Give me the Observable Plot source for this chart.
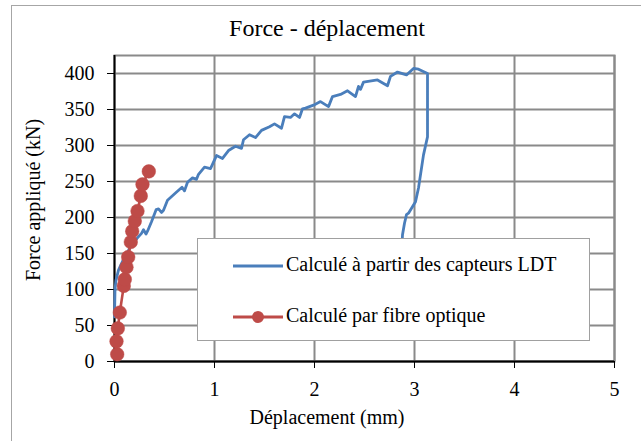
<!DOCTYPE html>
<html>
<head>
<meta charset="utf-8">
<script src="https://cdn.jsdelivr.net/npm/d3@7"></script>
<script src="https://cdn.jsdelivr.net/npm/@observablehq/plot@0.6"></script>
<style>
  html, body { margin: 0; padding: 0; background: #fff; overflow: hidden; }
  #wrap { position: relative; width: 641px; height: 441px; font-family: "Liberation Serif", "DejaVu Serif", serif; color: #000; }
  #border { position: absolute; left: 11px; top: 5px; width: 700px; height: 500px; border-left: 1.5px solid #a6a6a6; border-top: 1.5px solid #a6a6a6; }
  #chart { position: absolute; left: 0; top: 0; }
  #chart svg text { font-family: "Liberation Serif", serif; }
  .lbl { position: absolute; white-space: nowrap; line-height: 1; }
  #title { left: 0; width: 654px; top: 16px; text-align: center; font-size: 24px; }
  #xlab { left: 0; width: 654px; top: 407px; text-align: center; font-size: 20px; }
  #ylab { left: 33px; top: 200px; font-size: 20px; transform: translate(-50%, -50%) rotate(-90deg); }
  #legend { position: absolute; left: 197px; top: 238px; width: 393px; height: 103px; background: #fff; border: 1.5px solid #a0a0a0; box-sizing: border-box; }
  #legend svg { position: absolute; left: 0; top: 0; }
  .ltxt { position: absolute; left: 88px; font-size: 20px; white-space: nowrap; line-height: 1; }
</style>
</head>
<body>
<div id="wrap">
  <div id="border"></div>
  <div id="chart"></div>
  <div id="title" class="lbl">Force - déplacement</div>
  <div id="xlab" class="lbl">Déplacement (mm)</div>
  <div id="ylab" class="lbl">Force appliqué (kN)</div>
  <div id="legend"></div>
</div>
<script>
// Series 1: "Calculé à partir des capteurs LDT" (blue line)
const ldtX = [0.00, 0.005, 0.015, 0.04, 0.10, 0.16, 0.225, 0.27, 0.29, 0.315, 0.33, 0.37, 0.417, 0.44, 0.47, 0.49,
  0.53, 0.61, 0.675, 0.70, 0.73, 0.78, 0.82, 0.84, 0.90, 0.96, 1.02, 1.08, 1.14, 1.21, 1.27, 1.29, 1.35, 1.41,
  1.47, 1.55, 1.60, 1.67, 1.70, 1.76, 1.80, 1.85, 1.88, 1.91, 1.99, 2.06, 2.14, 2.18, 2.26, 2.33, 2.41, 2.44,
  2.46, 2.49, 2.63, 2.73, 2.76, 2.83, 2.92, 2.99, 3.04, 3.13, 3.13, 3.09, 3.04, 3.01, 2.94, 2.92, 2.90, 2.88, 2.86];
const ldtY = [62, 100, 113, 127, 145, 159, 171, 178, 183, 177, 181, 194, 211, 212, 207, 210,
  224, 234, 242, 237, 249, 255, 253, 260, 270, 268, 286, 282, 293, 299, 296, 308, 315, 311,
  321, 326, 330, 324, 340, 339, 344, 339, 351, 352, 356, 361, 354, 368, 371, 376, 368, 382,
  378, 388, 391, 383, 396, 402, 398, 407, 406, 400, 312, 287, 241, 222, 206, 204, 192, 176, 120];

// Series 2: "Calculé par fibre optique" (red line with markers)
const fibreX = [0.027, 0.02, 0.033, 0.053, 0.093, 0.103, 0.12, 0.137, 0.163, 0.177, 0.203, 0.23, 0.263, 0.28, 0.343];
const fibreY = [10, 28, 46, 68, 105, 114, 131, 145, 166, 181, 195, 209, 230, 246, 264];

const xTicks = [0, 1, 2, 3, 4, 5];
const yTicks = [0, 50, 100, 150, 200, 250, 300, 350, 400];

const seriesNames = ["Calculé à partir des capteurs LDT", "Calculé par fibre optique"];
const seriesColors = ["#4a7ebb", "#be4b48"];

const ldt = ldtX.map((x, i) => ({x, y: ldtY[i]}));
const fibre = fibreX.map((x, i) => ({x, y: fibreY[i]}));

const gridColor = "#8a8a8a";
const fontFam = "'Liberation Serif', serif";

const chart = Plot.plot({
  width: 641,
  height: 441,
  marginLeft: 114,
  marginRight: 27,
  marginTop: 55,
  marginBottom: 80,
  style: {fontFamily: fontFam, fontSize: "20px", color: "#000", background: "transparent"},
  x: {domain: [0, 5], label: null},
  y: {domain: [0, 425], label: null},
  marks: [
    Plot.gridX(xTicks, {stroke: gridColor, strokeOpacity: 1, strokeWidth: 2}),
    Plot.gridY(yTicks, {stroke: gridColor, strokeOpacity: 1, strokeWidth: 2}),
    Plot.frame({stroke: gridColor, strokeWidth: 2}),
    Plot.axisX(xTicks, {tickSize: 7, tickPadding: 13, tickFormat: d3.format("d"), stroke: "#000", strokeOpacity: 1, fontFamily: fontFam, fontSize: 20, label: null}),
    Plot.axisY(yTicks, {tickSize: 7, tickPadding: 13, tickFormat: d3.format("d"), stroke: "#000", strokeOpacity: 1, fontFamily: fontFam, fontSize: 20, label: null}),
    Plot.ruleX([0], {stroke: "#000", strokeWidth: 1.8}),
    Plot.ruleY([0], {stroke: "#000", strokeWidth: 1.8}),
    Plot.line(ldt, {x: "x", y: "y", stroke: seriesColors[0], strokeWidth: 2.8, strokeLinejoin: "round"}),
    Plot.line(fibre, {x: "x", y: "y", stroke: seriesColors[1], strokeWidth: 2.6}),
    Plot.dot(fibre, {x: "x", y: "y", r: 6.8, fill: seriesColors[1], stroke: seriesColors[1], strokeWidth: 0.5})
  ]
});
document.getElementById("chart").appendChild(chart);

// Legend (overlay box like the original)
const leg = document.getElementById("legend");
const ns = "http://www.w3.org/2000/svg";
const lsvg = document.createElementNS(ns, "svg");
lsvg.setAttribute("width", 393); lsvg.setAttribute("height", 103);
const rows = [27, 78];
seriesNames.forEach((name, i) => {
  const ln = document.createElementNS(ns, "line");
  ln.setAttribute("x1", 35); ln.setAttribute("x2", 85);
  ln.setAttribute("y1", rows[i]); ln.setAttribute("y2", rows[i]);
  ln.setAttribute("stroke", seriesColors[i]); ln.setAttribute("stroke-width", 2.8);
  lsvg.appendChild(ln);
  if (i === 1) {
    const c = document.createElementNS(ns, "circle");
    c.setAttribute("cx", 60); c.setAttribute("cy", rows[i]); c.setAttribute("r", 6);
    c.setAttribute("fill", seriesColors[i]);
    lsvg.appendChild(c);
  }
  const t = document.createElement("div");
  t.className = "ltxt";
  t.style.top = (rows[i] - 12) + "px";
  t.textContent = name;
  leg.appendChild(t);
});
leg.appendChild(lsvg);
</script>
</body>
</html>
